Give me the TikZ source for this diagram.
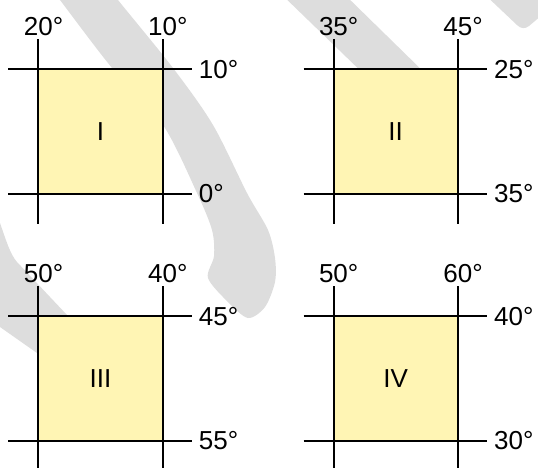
\documentclass[tikz,border=0pt]{standalone}
\usepackage{fontspec}
\setmainfont{Liberation Sans}
\usetikzlibrary{calc}
\definecolor{sqfill}{RGB}{255,245,180}
\definecolor{wmgray}{RGB}{221,221,221}
\tikzset{
  sqbox/.style={fill=sqfill, minimum width=124pt, minimum height=124pt, inner sep=0pt, anchor=north west},
  gridline/.style={line width=2pt, black},
  lbl/.style={font=\fontsize{26}{31}\selectfont, inner sep=0pt},
  wm/.style={fill=wmgray},
}
% #1 name, #2 x, #3 y, #4 roman, #5 top-left, #6 top-right, #7 right-top, #8 right-bottom
\newcommand\quadpanel[8]{%
  \node[sqbox] (#1) at (#2,#3) {};
  \node[lbl] (#1-c) at (#1.center) {#4};
  \draw[gridline] ($(#1.north west)+(-30,0)$) -- ($(#1.north east)+(29,0)$);
  \draw[gridline] ($(#1.south west)+(-30,0)$) -- ($(#1.south east)+(29,0)$);
  \draw[gridline] ($(#1.north west)+(0,-30)$) -- ($(#1.south west)+(0,30)$);
  \draw[gridline] ($(#1.north east)+(0,-30)$) -- ($(#1.south east)+(0,30)$);
  \node[lbl, anchor=base] (#1-tl) at ($(#1.north west)+(0,-34)$) {#5\rlap{°}};
  \node[lbl, anchor=base] (#1-tr) at ($(#1.north east)+(0,-34)$) {#6\rlap{°}};
  \node[lbl, anchor=west] (#1-rt) at ($(#1.north east)+(36,0)$) {#7°};
  \node[lbl, anchor=west] (#1-rb) at ($(#1.south east)+(36,0)$) {#8°};
}
\begin{document}
\begin{tikzpicture}[x=1pt,y=-1pt]
\useasboundingbox (0,0) rectangle (538,467);
\begin{scope}
  \clip (0,0) rectangle (538,467);
  % big arc stroke
  \fill[wm] plot[smooth cycle, tension=0.5] coordinates {(45,-20) (60,0) (112,68) (163,125) (197,193) (212,230) (214,256) (208,278) (228,302) (248,318) (265,307) (275,282) (275,258) (268,230) (247,193) (213,125) (173,68) (118,0) (103,-20)};
  % diagonal stroke top middle
  \fill[wm] (277,-10) -- (340,-10) -- (432,80) -- (370,80) -- cycle;
  % top right stroke
  \fill[wm] (480,-10) -- (517,25) .. controls (521,29) and (525,29) .. (529,26) -- (548,10) -- (548,-10) -- cycle;
  % lower left stroke
  \fill[wm] (-10,210) -- (0,223) .. controls (6,240) and (10,254) .. (17,262) -- (67,315) -- (90,340) -- (50,372) -- (37,353) -- (0,327) -- (-10,320) -- cycle;
\end{scope}
\quadpanel{pI}{38.3}{69.3}{I}{20}{10}{10}{0}
\quadpanel{pII}{333.5}{69.3}{II}{35}{45}{25}{35}
\quadpanel{pIII}{38.3}{316.3}{III}{50}{40}{45}{55}
\quadpanel{pIV}{333.5}{316.3}{IV}{50}{60}{40}{30}
\end{tikzpicture}
\end{document}
